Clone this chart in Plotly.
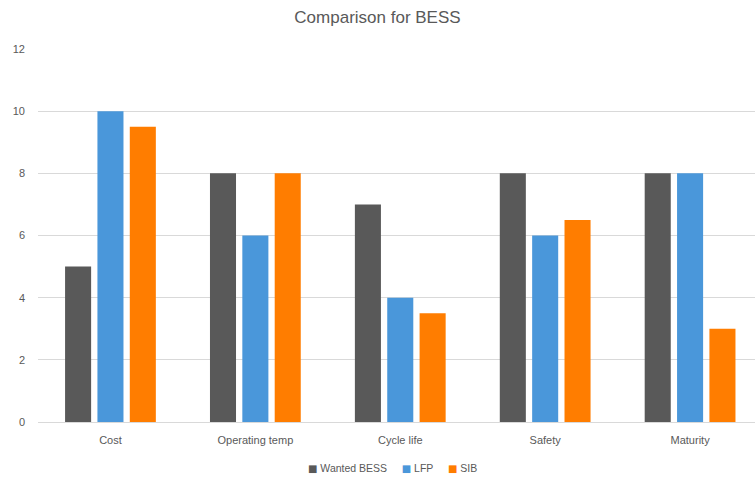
import plotly.graph_objects as go

categories = ["Cost", "Operating temp", "Cycle life", "Safety", "Maturity"]
wanted_bess = [5, 8, 7, 8, 8]
lfp = [10, 6, 4, 6, 8]
sib = [9.5, 8, 3.5, 6.5, 3]
y_ticks = [0, 2, 4, 6, 8, 10, 12]

series = [
    ("Wanted BESS", wanted_bess, "#595959"),
    ("LFP", lfp, "#4a97da"),
    ("SIB", sib, "#ff7d00"),
]

text_color = "#595959"
font_family = "Liberation Sans, Arial"

fig = go.Figure()
for name, values, color in series:
    fig.add_trace(go.Bar(
        name=name,
        x=categories,
        y=values,
        showlegend=False,
        marker=dict(color=color, line=dict(width=0)),
    ))

# Compact legend row under the axis: coloured square keys next to each series name
legend_text = "&nbsp;&nbsp;&nbsp;&nbsp;&nbsp;".join(
    f'<span style="color:{color};font-family:DejaVu Sans;font-size:10px">■</span>&nbsp;{name}'
    for name, _, color in series
)

fig.add_annotation(
    text=legend_text,
    xref="paper",
    yref="paper",
    x=0.495,
    xanchor="center",
    y=-46 / 373,
    yanchor="middle",
    showarrow=False,
    font=dict(family=font_family, size=10.5, color=text_color),
)

fig.update_layout(
    width=755,
    height=477,
    margin=dict(l=38, r=0, t=49, b=55, autoexpand=False),
    paper_bgcolor="white",
    plot_bgcolor="white",
    barmode="group",
    bargap=0.33,
    bargroupgap=0.195,
    showlegend=False,
    title=dict(
        text="Comparison for BESS",
        x=0.5,
        xanchor="center",
        y=1 - 17 / 477,
        yanchor="middle",
        font=dict(family=font_family, size=17, color=text_color),
    ),
    font=dict(family=font_family, size=11, color=text_color),
    xaxis=dict(
        type="category",
        range=[-0.5, 4.448],
        showgrid=False,
        showline=False,
        ticks="",
        automargin=False,
        ticklabelstandoff=10,
        tickfont=dict(size=11, color=text_color),
    ),
    yaxis=dict(
        range=[0, 12],
        tickvals=y_ticks,
        showgrid=True,
        gridcolor="#d9d9d9",
        gridwidth=1,
        zeroline=True,
        zerolinecolor="#d9d9d9",
        zerolinewidth=1,
        showline=False,
        ticks="",
        automargin=False,
        ticklabelstandoff=12,
        tickfont=dict(size=11, color=text_color),
    ),
)

fig.write_html("out.html")
